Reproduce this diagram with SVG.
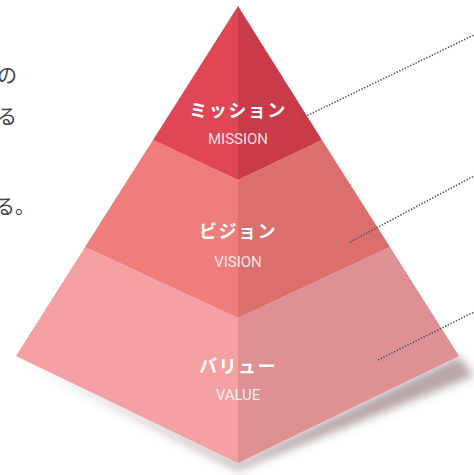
<svg xmlns="http://www.w3.org/2000/svg" width="474" height="475" viewBox="0 0 474 475">
<style>
.title{font-family:"Noto Sans CJK JP","Noto Sans",sans-serif;font-weight:700;font-size:18px;fill:#fff;text-anchor:middle;letter-spacing:1.5px;}
.sub{font-family:Roboto,"Liberation Sans",sans-serif;font-size:15px;fill:#fff;fill-opacity:0.85;text-anchor:middle;}
.side{font-family:"Noto Sans CJK JP",sans-serif;font-size:20px;fill:#444;}
.dot{stroke:#555;stroke-width:1.6;stroke-dasharray:1.4 1.6;fill:none;}
</style>
<defs>
<filter id="sh" x="-20%" y="-50%" width="140%" height="200%"><feGaussianBlur stdDeviation="5"/></filter>
</defs>
<rect width="474" height="475" fill="#fff"/>
<g id="side-text">
<text class="side" x="-3" y="83">の</text>
<text class="side" x="-3" y="124">る</text>
<text class="side" x="-5" y="214">る。</text>
</g>
<polygon points="18,358 238,470 474,376 459,356 238,463" fill="#6e4a50" fill-opacity="0.5" filter="url(#sh)"/>
<g id="value">
<polygon points="85,247 238,318 238,463 16,356" fill="#f5a0a2"/>
<polygon points="238,318 390,247 459,356 238,463" fill="#df9094"/>
<text class="title" x="238" y="373">バリュー</text>
<text class="sub" x="238" y="400">VALUE</text>
</g>
<g id="vision">
<polygon points="153,140 238,180 238,318 85,247" fill="#f07c7b"/>
<polygon points="238,180 322,140 390,247 238,318" fill="#db6f6d"/>
<text class="title" x="238" y="238">ビジョン</text>
<text class="sub" x="238" y="267">VISION</text>
</g>
<g id="mission">
<polygon points="238,6 153,140 238,180" fill="#e04655"/>
<polygon points="238,6 238,180 322,140" fill="#c93a4a"/>
<text class="title" x="238" y="117">ミッション</text>
<text class="sub" x="238" y="144">MISSION</text>
</g>
<g id="connectors">
<line class="dot" x1="302" y1="118" x2="474" y2="35"/>
<line class="dot" x1="350" y1="242" x2="474" y2="176"/>
<line class="dot" x1="378" y1="360" x2="474" y2="312"/>
</g>
</svg>
